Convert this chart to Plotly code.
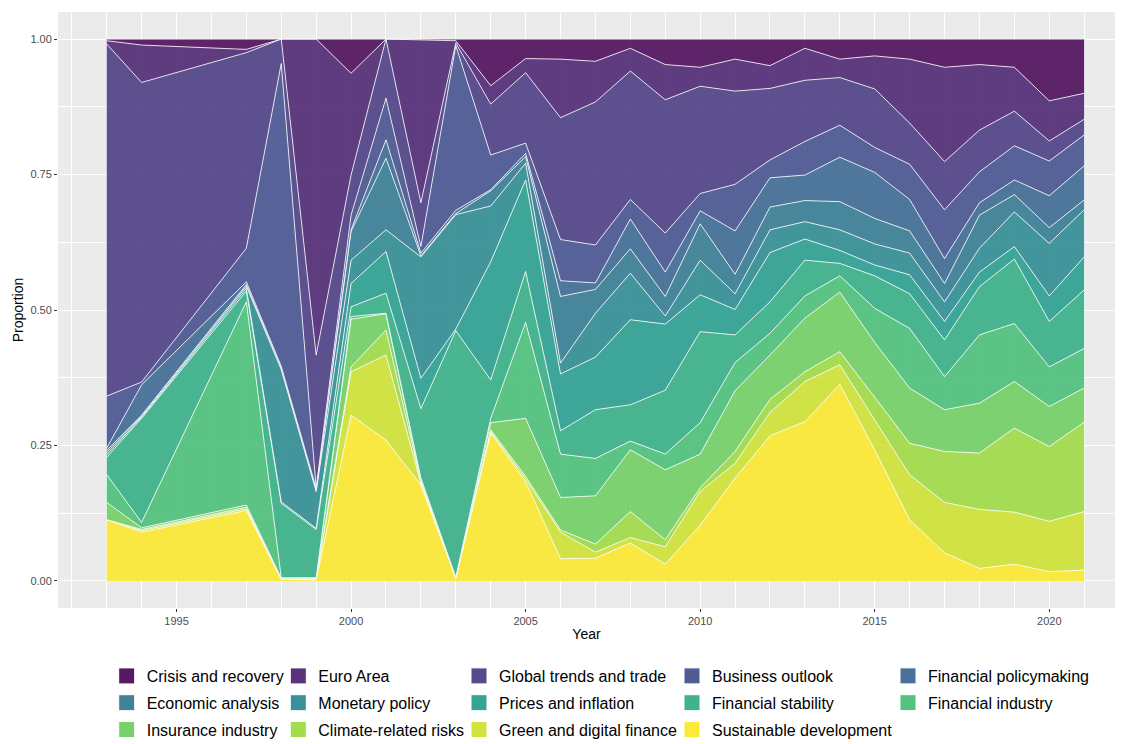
import plotly.graph_objects as go
from plotly.colors import sample_colorscale

years = [1993, 1994, 1997, 1998, 1999, 2000, 2001, 2002, 2003, 2004, 2005, 2006, 2007,
         2008, 2009, 2010, 2011, 2012, 2013, 2014, 2015, 2016, 2017, 2018, 2019, 2020, 2021]

# share of each topic per year
crisis = [.003, .011, .019, 0, 0, .063, 0, .002, .003, .086, .036, .037, .041, .017, .047, .052, .037,
          .049, .017, .037, .031, .037, .052, .047, .052, .114, .100]
euro_area = [.006, .069, .006, 0, .583, .188, 0, .300, .004, .034, .026, .108, .075, .042, .065, .035, .059,
             .042, .059, .034, .061, .118, .174, .121, .081, .074, .048]
global_trends = [.650, .553, .361, .045, .245, .074, .109, .081, .005, .094, .130, .225, .264, .237, .246, .198,
                 .172, .132, .113, .088, .108, .076, .089, .077, .064, .037, .029]
business = [.096, .005, .062, .559, .001, .027, .077, .012, .304, .064, .019, .076, .070, .036, .072, .032, .086,
            .033, .062, .059, .046, .065, .090, .057, .063, .064, .057]
fin_policy = [.004, .056, .005, .003, .003, .003, .034, .005, .006, .002, .006, .029, .012, .055, .045, .024, .080,
              .054, .047, .082, .085, .058, .046, .023, .027, .059, .063]
economic = [.004, .002, .003, .003, .003, .053, .132, .002, .002, .028, .012, .123, .044, .045, .036, .067, .036,
            .042, .039, .052, .047, .041, .034, .061, .032, .029, .018]
monetary = [.004, .002, .004, .244, .068, .043, .040, .224, .211, .103, .031, .020, .081, .086, .015, .064, .029,
            .042, .032, .038, .039, .040, .036, .044, .064, .097, .087]
prices = [.005, .002, .005, .003, .002, .043, .077, .056, .003, .218, .169, .105, .097, .157, .122, .068, .047,
          .091, .039, .024, .020, .035, .034, .027, .023, .047, .061]
fin_stability = [.032, .192, .020, .137, .089, .018, .037, .128, .455, .071, .094, .043, .090, .067, .118, .168,
                 .051, .058, .066, .023, .060, .064, .068, .089, .119, .084, .108]
fin_industry = [.051, .010, .375, .001, .001, .005, .001, .004, .001, .008, .177, .080, .069, .016, .029, .058,
                .052, .040, .041, .030, .063, .110, .061, .126, .107, .073, .073]
insurance = [.032, .003, .004, .001, .001, .088, .030, .003, 0, .013, .107, .060, .089, .114, .129, .062, .112,
             .082, .099, .110, .101, .102, .077, .092, .086, .074, .063]
climate = [0, .002, .003, .001, .001, .009, .046, .003, .001, .003, .005, .004, .015, .048, .013, .007, .022,
           .024, .018, .024, .042, .058, .094, .104, .155, .138, .165]
green = [0, .003, .003, 0, .001, .080, .157, .003, 0, .003, .005, .049, .011, .010, .032, .062, .027,
         .043, .074, .036, .055, .083, .093, .109, .096, .093, .108]
sustainable = [.113, .090, .130, .003, .002, .306, .260, .177, .005, .273, .183, .041, .042, .070, .031, .103,
               .190, .268, .294, .363, .242, .113, .052, .023, .031, .017, .020]

topics = [
    ("Crisis and recovery", crisis),
    ("Euro Area", euro_area),
    ("Global trends and trade", global_trends),
    ("Business outlook", business),
    ("Financial policymaking", fin_policy),
    ("Economic analysis", economic),
    ("Monetary policy", monetary),
    ("Prices and inflation", prices),
    ("Financial stability", fin_stability),
    ("Financial industry", fin_industry),
    ("Insurance industry", insurance),
    ("Climate-related risks", climate),
    ("Green and digital finance", green),
    ("Sustainable development", sustainable),
]

# viridis, one colour per topic, a bit transparent like the ggplot version
palette = sample_colorscale("Viridis", [i / (len(topics) - 1) for i in range(len(topics))])


def rgba(c, a=0.85):
    r, g, b = [int(float(v)) for v in c[c.index("(") + 1:-1].split(",")]
    return f"rgba({r},{g},{b},{a})"


fig = go.Figure()

# areas: stack from the bottom (sustainable) up to crisis
for i in reversed(range(len(topics))):
    name, vals = topics[i]
    fig.add_trace(go.Scatter(
        x=years, y=vals, name=name, stackgroup="one", groupnorm="fraction",
        mode="lines", line=dict(color="white", width=0.8),
        fillcolor=rgba(palette[i]), showlegend=False, hoverinfo="x+y+name"))

# legend keys, five columns laid out like the ggplot guide
for i, (name, vals) in enumerate(topics):
    col = i % 5
    fig.add_trace(go.Scatter(
        x=[None], y=[None], mode="markers", name=name,
        marker=dict(symbol="square", size=18, color=rgba(palette[i], 0.9),
                    line=dict(color="white", width=1)),
        legend="legend" if col == 0 else f"legend{col + 1}",
        legendgroup=name, showlegend=True))

W, H = 1121, 744
ml, mr, mt, mb = 58, 6, 12, 136
px_per_year = 34.91
x0 = 1993 - (106.7 - ml) / px_per_year
x1 = x0 + (W - ml - mr) / px_per_year

col_left = [106.7, 278.3, 459, 672, 888]   # pixel position of each legend column
legend_common = dict(
    orientation="v", xanchor="left", yanchor="top", yref="container", y=(H - 659) / H,
    font=dict(family="Liberation Sans, Arial, sans-serif", size=16, color="black"),
    bgcolor="rgba(0,0,0,0)", traceorder="grouped", tracegroupgap=3,
    itemclick=False, itemdoubleclick=False)
legends = {}
for col, cx in enumerate(col_left):
    key = "legend" if col == 0 else f"legend{col + 1}"
    legends[key] = dict(legend_common, x=(cx - ml) / (W - ml - mr))

fig.update_layout(
    width=W, height=H,
    margin=dict(l=ml, r=mr, t=mt, b=mb),
    paper_bgcolor="white", plot_bgcolor="#EBEBEB",
    font=dict(family="Liberation Sans, Arial, sans-serif", color="black"),
    **legends,
)

fig.update_xaxes(
    range=[x0, x1], tickvals=[1995, 2000, 2005, 2010, 2015, 2020],
    showgrid=True, gridcolor="white", gridwidth=1.1,
    minor=dict(dtick=1, tick0=1993, showgrid=True, gridcolor="white", gridwidth=0.5),
    ticks="outside", ticklen=3, tickcolor="#333333", tickwidth=1,
    tickfont=dict(size=11, color="#4D4D4D"),
    title=dict(text="Year", font=dict(size=14, color="black"), standoff=2),
    zeroline=False, showline=False, automargin=False)

fig.update_yaxes(
    range=[-0.05, 1.05], tickvals=[0, 0.25, 0.5, 0.75, 1], tickformat=".2f",
    showgrid=True, gridcolor="white", gridwidth=1.1,
    minor=dict(tickvals=[0.125, 0.375, 0.625, 0.875], showgrid=True, gridcolor="white", gridwidth=0.5),
    ticks="outside", ticklen=3, tickcolor="#333333", tickwidth=1,
    tickfont=dict(size=11, color="#4D4D4D"),
    title=dict(text="Proportion", font=dict(size=14, color="black"), standoff=3),
    zeroline=False, showline=False, automargin=False)

# drop the default page margin so the figure sits at the window's top-left corner
fig.write_html("out.html", config={"displayModeBar": False},
               post_script="document.body.style.margin = '0';")
